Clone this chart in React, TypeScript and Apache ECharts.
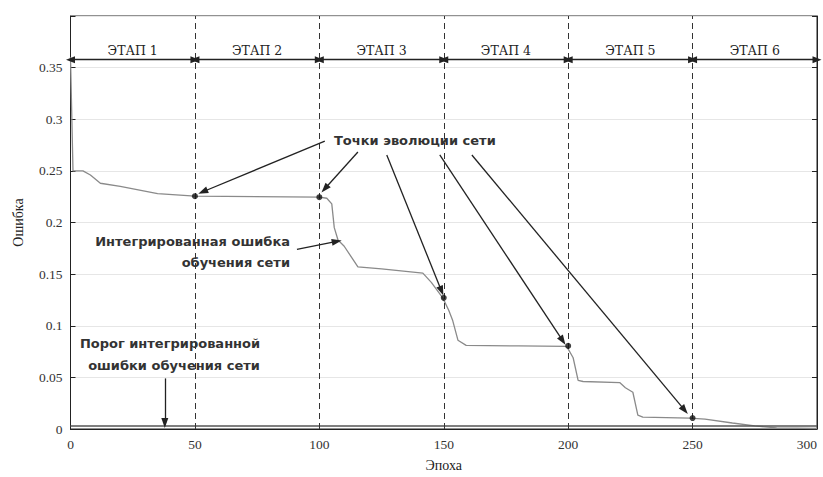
import React, { useEffect, useRef } from "react";
import * as echarts from "echarts";

// Integrated training error curve (epoch, error)
const epochs = [0, 1, 5, 8, 12, 20, 35, 50, 100, 103, 105, 106, 107.5, 110, 115.5, 125, 141.6, 145, 149.6, 152, 153.6, 155.7, 159, 180, 199.4, 202, 204, 206, 220.7, 223, 226, 228, 230, 248.8, 255, 266, 275, 283.8, 300];
const errors = [0.36, 0.25, 0.25, 0.246, 0.238, 0.235, 0.228, 0.2255, 0.2245, 0.2235, 0.218, 0.195, 0.183, 0.177, 0.157, 0.155, 0.151, 0.142, 0.127, 0.115, 0.105, 0.086, 0.081, 0.0805, 0.08, 0.069, 0.047, 0.046, 0.045, 0.04, 0.0356, 0.0135, 0.0115, 0.0106, 0.0095, 0.0058, 0.003, 0.001, 0.0005];

// Network evolution points
const evoEpochs = [50, 100, 150, 200, 250];
const evoErrors = [0.2255, 0.2245, 0.127, 0.0805, 0.0106];

// Threshold of integrated training error
const thresholdEpochs = [0, 300];
const thresholdValues = [0.003, 0.003];

// Stages
const stageEdges = [0, 50, 100, 150, 200, 250, 300];
const stageNames = ["ЭТАП 1", "ЭТАП 2", "ЭТАП 3", "ЭТАП 4", "ЭТАП 5", "ЭТАП 6"];
const stageArrowLevel = 0.3577;

// Annotation arrows (data coordinates)
const arrowStarts = [[102.2, 0.2788], [115.5, 0.2683], [127.1, 0.2654], [148.4, 0.2654], [161.3, 0.2654], [91, 0.174], [37.9, 0.049]];
const arrowEnds = [[53.2, 0.2298], [102.2, 0.2327], [149.1, 0.1337], [197.8, 0.0856], [246.8, 0.0183], [107, 0.1817], [37.9, 0.0058]];

const xTickLabels = ["0", "50", "100", "150", "200", "250", "300"];

const serif = "Liberation Serif";
const sans = "DejaVu Sans";

export default function App() {
  const ref = useRef<HTMLDivElement>(null);
  useEffect(() => {
    if (!ref.current) return;
    const chart = echarts.init(ref.current, null, { renderer: "svg" });
    const curve = epochs.map((e, i) => [e, errors[i]]);
    const dots = evoEpochs.map((e, i) => [e, evoErrors[i]]);
    const thr = thresholdEpochs.map((e, i) => [e, thresholdValues[i]]);
    const stageLines = stageNames.map((n, i) => [
      { coord: [stageEdges[i], stageArrowLevel], name: n },
      { coord: [stageEdges[i + 1], stageArrowLevel] },
    ]);
    const arrows = arrowStarts.map((s, i) => [{ coord: s }, { coord: arrowEnds[i] }]);
    const annFont = `bold 13px "${sans}"`;
    chart.setOption({
      animation: false,
      backgroundColor: "#fff",
      grid: {
        left: 70.5,
        right: 6,
        top: 16,
        bottom: 48,
        show: true,
        borderColor: "#222",
        borderWidth: 1,
        outerBoundsMode: "none",
        containLabel: false,
      },
      xAxis: {
        type: "value",
        min: 0,
        max: 300,
        interval: 50,
        name: "Эпоха",
        nameLocation: "middle",
        nameGap: 29,
        nameTextStyle: { fontFamily: serif, fontSize: 14, color: "#222" },
        axisLine: { lineStyle: { color: "#222" } },
        axisTick: { inside: true, length: 5, lineStyle: { color: "#222" } },
        axisLabel: {
          fontFamily: serif,
          fontSize: 13.5,
          color: "#333",
          margin: 8,
          hideOverlap: false,
          alignMaxLabel: "right",
          formatter: (v: number) => xTickLabels[Math.round(v / 50)] ?? "",
        },
        splitLine: { show: false },
      },
      yAxis: [
        {
          type: "value",
          min: 0,
          max: 0.4,
          interval: 0.05,
          name: "Ошибка",
          nameLocation: "middle",
          nameGap: 45,
          nameTextStyle: { fontFamily: serif, fontSize: 14, color: "#222" },
          axisLine: { show: true, lineStyle: { color: "#222" } },
          axisTick: { show: true, inside: true, length: 5, lineStyle: { color: "#222" } },
          axisLabel: {
            fontFamily: serif,
            fontSize: 13.5,
            color: "#333",
            margin: 8,
            formatter: (v: number) => (v > 0.375 ? "" : String(+v.toFixed(2))),
          },
          splitLine: { show: true, lineStyle: { color: "#e6e6e6", width: 1 } },
        },
        {
          type: "value",
          min: 0,
          max: 0.4,
          interval: 0.05,
          position: "right",
          axisLine: { show: true, lineStyle: { color: "#222" } },
          axisTick: { show: true, inside: true, length: 5, lineStyle: { color: "#222" } },
          axisLabel: { show: false },
          splitLine: { show: false },
        },
      ],
      series: [
        {
          type: "line",
          data: curve,
          showSymbol: false,
          symbol: "none",
          lineStyle: { color: "#8a8a8a", width: 1.3 },
          z: 3,
        },
        {
          type: "line",
          data: thr,
          showSymbol: false,
          symbol: "none",
          lineStyle: { color: "#555", width: 1.5 },
          z: 3,
        },
        {
          type: "line",
          data: [],
          markLine: {
            silent: true,
            symbol: ["none", "none"],
            label: { show: false },
            lineStyle: { color: "#333", width: 1, type: [6, 4] },
            data: stageEdges.slice(1, -1).map((x) => ({ xAxis: x })),
          },
        },
        {
          type: "line",
          data: [],
          markLine: {
            silent: true,
            symbol: ["triangle", "triangle"],
            symbolSize: [7, 9],
            lineStyle: { color: "#222", width: 1.3, type: "solid" },
            label: {
              show: true,
              position: "insideMiddleTop",
              distance: 3,
              formatter: (p: any) => p.name,
              fontFamily: "DejaVu Serif",
              fontSize: 12.5,
              color: "#222",
            },
            data: stageLines,
          },
        },
        {
          type: "line",
          data: [],
          markLine: {
            silent: true,
            symbol: ["none", "triangle"],
            symbolSize: [7, 10],
            label: { show: false },
            lineStyle: { color: "#222", width: 1.3, type: "solid" },
            data: arrows,
          },
          z: 4,
        },
        {
          type: "scatter",
          data: dots,
          symbol: "circle",
          symbolSize: 6,
          itemStyle: { color: "#111" },
          z: 5,
        },
      ],
      graphic: [
        { type: "text", x: 334, y: 140, style: { text: "Точки эволюции сети", font: annFont, fill: "#333", align: "left", verticalAlign: "middle" } },
        { type: "text", x: 290, y: 241, style: { text: "Интегрированная ошибка", font: annFont, fill: "#333", align: "right", verticalAlign: "middle" } },
        { type: "text", x: 290, y: 262, style: { text: "обучения сети", font: annFont, fill: "#333", align: "right", verticalAlign: "middle" } },
        { type: "text", x: 170, y: 343, style: { text: "Порог интегрированной", font: annFont, fill: "#333", align: "center", verticalAlign: "middle" } },
        { type: "text", x: 174, y: 365, style: { text: "ошибки обучения сети", font: annFont, fill: "#333", align: "center", verticalAlign: "middle" } },
      ],
    });
    return () => chart.dispose();
  }, []);
  return <div ref={ref} style={{ position: "fixed", left: 0, top: 0, width: 823, height: 477 }} />;
}
